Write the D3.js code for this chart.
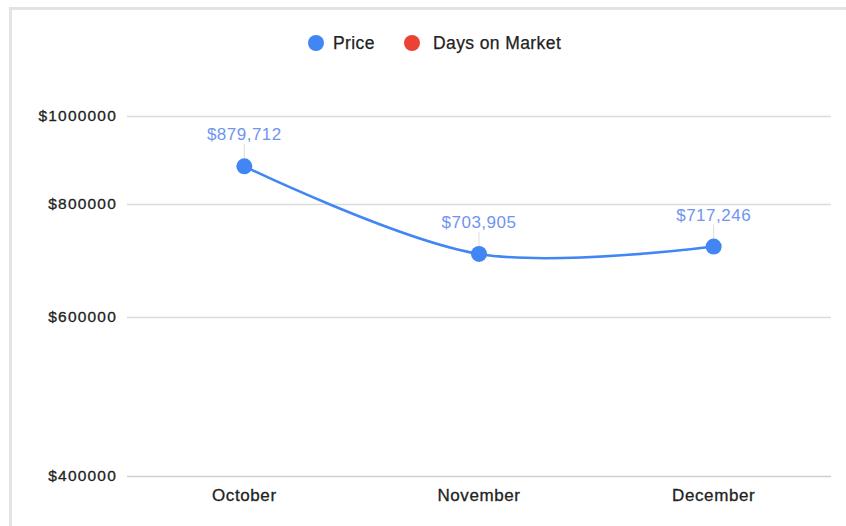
<!DOCTYPE html>
<html>
<head>
<meta charset="utf-8">
<script src="https://cdn.jsdelivr.net/npm/d3@7"></script>
<style>
  body { margin: 0; background: #fff; }
  text { font-family: "Liberation Sans", Arial, sans-serif; }
</style>
</head>
<body>
<div id="container"></div>
<script>
// chart data
const months = ["October", "November", "December"];
const prices = [879712, 703905, 717246];
const yTicks = [400000, 600000, 800000, 1000000];
const seriesNames = ["Price", "Days on Market"];
const seriesColors = ["#4285f4", "#ea4335"];

const width = 846, height = 526;
const margin = { top: 116, right: 15, bottom: 50, left: 127 };

const svg = d3.select("#container")
    .append("svg")
    .attr("width", width)
    .attr("height", height);

// frame lines (top and left)
svg.append("line")
    .attr("x1", 9).attr("x2", width).attr("y1", 8.5).attr("y2", 8.5)
    .attr("stroke", "#e3e3e3").attr("stroke-width", 3);
svg.append("line")
    .attr("x1", 10.5).attr("x2", 10.5).attr("y1", 8).attr("y2", height)
    .attr("stroke", "#e3e3e3").attr("stroke-width", 3);

// scales
const x = d3.scalePoint()
    .domain(months)
    .range([margin.left, width - margin.right])
    .padding(0.5);

const y = d3.scaleLog()
    .domain([400000, 1000000])
    .range([height - margin.bottom, margin.top]);

// gridlines
svg.append("g")
    .selectAll("line")
    .data(yTicks)
    .enter()
    .append("line")
    .attr("x1", margin.left)
    .attr("x2", width - margin.right)
    .attr("y1", d => Math.round(y(d)) + 0.5)
    .attr("y2", d => Math.round(y(d)) + 0.5)
    .attr("stroke", (d, i) => i === 0 ? "#cfcfcf" : "#dcdcdc")
    .attr("stroke-width", 1.5);

// y tick labels
svg.append("g")
    .attr("font-size", 15.5)
    .attr("fill", "#222")
    .attr("stroke", "#222")
    .attr("stroke-width", 0.3)
    .attr("text-anchor", "end")
    .selectAll("text")
    .data(yTicks)
    .enter()
    .append("text")
    .attr("x", margin.left - 10)
    .attr("y", d => y(d))
    .attr("dy", "0.35em")
    .attr("letter-spacing", 1.2)
    .text(d => "$" + d);

// x labels
svg.append("g")
    .attr("font-size", 17)
    .attr("fill", "#222")
    .attr("stroke", "#222")
    .attr("stroke-width", 0.3)
    .attr("text-anchor", "middle")
    .selectAll("text")
    .data(months)
    .enter()
    .append("text")
    .attr("x", d => x(d))
    .attr("y", height - margin.bottom + 25)
    .attr("letter-spacing", 0.6)
    .text(d => d);

// line
const line = d3.line()
    .x((d, i) => x(months[i]))
    .y(d => y(d))
    .curve(d3.curveCatmullRom);

svg.append("path")
    .datum(prices)
    .attr("d", line)
    .attr("fill", "none")
    .attr("stroke", seriesColors[0])
    .attr("stroke-width", 2.5);

// leader lines to labels
svg.append("g")
    .selectAll("line")
    .data(prices)
    .enter()
    .append("line")
    .attr("x1", (d, i) => x(months[i]))
    .attr("x2", (d, i) => x(months[i]))
    .attr("y1", d => y(d) - 22)
    .attr("y2", d => y(d))
    .attr("stroke", "#ddd")
    .attr("stroke-width", 1);

// points
svg.append("g")
    .selectAll("circle")
    .data(prices)
    .enter()
    .append("circle")
    .attr("cx", (d, i) => x(months[i]))
    .attr("cy", d => y(d))
    .attr("r", 8)
    .attr("fill", seriesColors[0]);

// data labels
svg.append("g")
    .attr("font-size", 17)
    .attr("fill", "#6f94f2")
    .attr("text-anchor", "middle")
    .style("font-family", "Roboto, sans-serif")
    .selectAll("text")
    .data(prices)
    .enter()
    .append("text")
    .attr("x", (d, i) => x(months[i]))
    .attr("y", d => y(d) - 26)
    .attr("letter-spacing", 0.5)
    .text(d => "$" + d3.format(",")(d));

// legend
const legend = svg.append("g")
    .selectAll("g")
    .data(seriesNames)
    .enter()
    .append("g")
    .attr("transform", (d, i) => `translate(${i === 0 ? 316 : 412},43)`);

legend.append("circle")
    .attr("r", 8)
    .attr("fill", (d, i) => seriesColors[i]);

legend.append("text")
    .attr("x", (d, i) => i === 0 ? 17 : 21)
    .attr("dy", "0.35em")
    .attr("font-size", 17.5)
    .attr("fill", "#222")
    .attr("stroke", "#222")
    .attr("stroke-width", 0.25)
    .attr("letter-spacing", 0.4)
    .text(d => d);
</script>
</body>
</html>
